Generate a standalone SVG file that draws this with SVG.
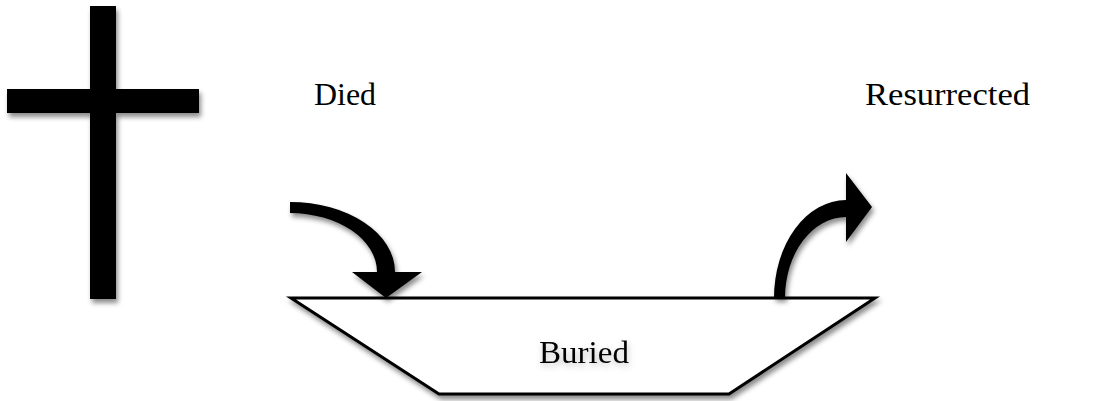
<svg xmlns="http://www.w3.org/2000/svg" width="1099" height="401" viewBox="0 0 1099 401">
  <defs>
    <filter id="shadow" x="-20%" y="-20%" width="150%" height="150%">
      <feDropShadow dx="2" dy="4" stdDeviation="2.5" flood-color="#000" flood-opacity="0.45"/>
    </filter>
    <filter id="textShadow" x="-20%" y="-40%" width="140%" height="180%">
      <feDropShadow dx="1" dy="3" stdDeviation="3" flood-color="#000" flood-opacity="0.25"/>
    </filter>
  </defs>
  <style>
    .lbl { font-family: "Liberation Serif", "Times New Roman", serif; font-size: 32px; fill: #000; }
    .solid { fill: #000; stroke: none; }
    .tomb { fill: #fff; stroke: #000; stroke-width: 3; stroke-linejoin: miter; }
  </style>
  <rect width="1099" height="401" fill="#fff"/>

  <g id="cross" filter="url(#shadow)">
    <rect class="solid" x="90" y="6" width="26" height="293"/>
    <rect class="solid" x="7" y="89" width="192" height="24"/>
  </g>

  <g id="died">
    <text class="lbl" x="314" y="105" textLength="62" lengthAdjust="spacingAndGlyphs">Died</text>
  </g>

  <g id="resurrected">
    <text class="lbl" x="865" y="105" textLength="165" lengthAdjust="spacingAndGlyphs">Resurrected</text>
  </g>

  <g id="buried">
    <polygon class="tomb" filter="url(#shadow)" points="291,298 875,298 729,394 439,394"/>
    <text class="lbl" x="539" y="363" textLength="90" lengthAdjust="spacingAndGlyphs" filter="url(#textShadow)">Buried</text>
  </g>

  <g id="connectors" filter="url(#shadow)">
    <path class="solid" d="M290,202 A105,70 0 0 1 395,272 L422,272 L386,298 L352,272 L377,272 A87,59 0 0 0 290,213 Z"/>
    <path class="solid" d="M774,298 A72,98 0 0 1 846,200 L846,173 L872,207 L846,242 L846,217 A61,81 0 0 0 785,298 Z"/>
  </g>
</svg>
